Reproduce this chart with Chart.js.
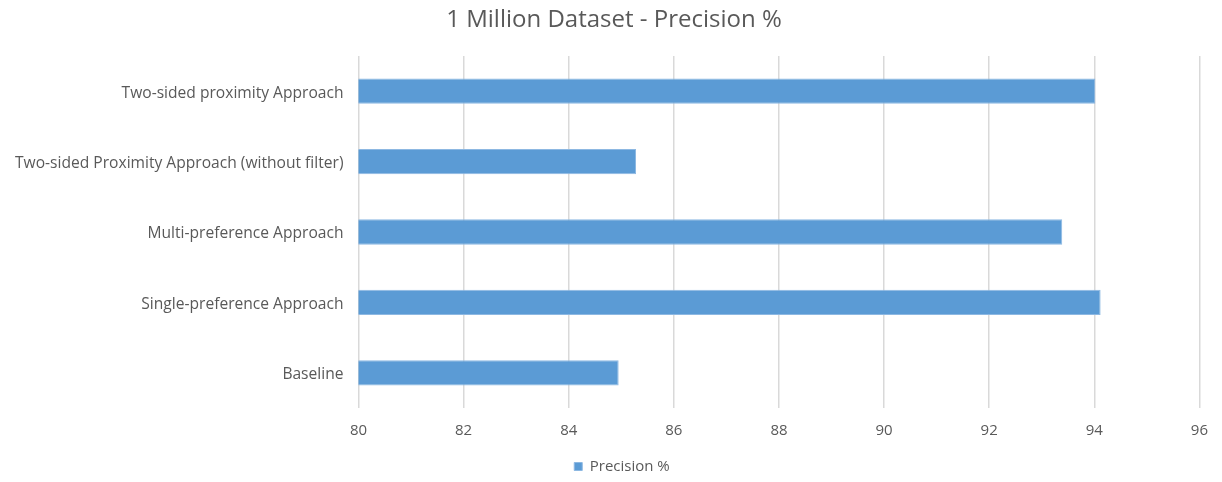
<!DOCTYPE html>
<html>
<head>
<meta charset="utf-8">
<script src="https://cdn.jsdelivr.net/npm/chart.js@4/dist/chart.umd.min.js"></script>
<style>
  html, body { margin: 0; padding: 0; background: #ffffff; }
  #wrap { width: 1222px; height: 482px; position: relative; }
</style>
</head>
<body>
<div id="wrap"><canvas id="chart" width="1222" height="482"></canvas></div>
<script>
// Approaches compared on the 1 million record dataset
const categories = [
  'Two-sided proximity Approach',
  'Two-sided Proximity Approach (without filter)',
  'Multi-preference Approach',
  'Single-preference Approach',
  'Baseline'
];
const precisionValues = [94.02, 85.28, 93.39, 94.12, 84.95];
const seriesName = 'Precision %';
const chartTitle = '1 Million Dataset - Precision %';
const axisMin = 80;
const axisMax = 96;
const axisStep = 2;

const textGrey = '#595959';
const barBlue = '#5B9BD5';
const fontFamily = "'Open Sans', 'Noto Sans', sans-serif";

// Nudge the title and legend blocks to the right so they sit over the plot rather than the whole canvas
const centreBlocks = {
  id: 'centreBlocks',
  afterLayout(chart) {
    const t = chart.titleBlock;
    if (t) { t.left += 7; t.right += 7; }
    const l = chart.legend;
    if (l) { l.left += 15; l.right += 15; }
  }
};

new Chart(document.getElementById('chart'), {
  type: 'bar',
  data: {
    labels: categories,
    datasets: [{
      label: seriesName,
      data: precisionValues,
      backgroundColor: barBlue,
      borderColor: '#8db8e2',
      borderWidth: 1,
      borderSkipped: false,
      categoryPercentage: 1,
      barPercentage: 0.36
    }]
  },
  plugins: [centreBlocks],
  options: {
    indexAxis: 'y',
    responsive: false,
    animation: false,
    devicePixelRatio: 1,
    layout: { padding: { left: 9, right: 17, top: 0, bottom: -2 } },
    plugins: {
      title: {
        display: true,
        text: chartTitle,
        color: textGrey,
        font: { family: fontFamily, size: 24, weight: 'normal' },
        padding: { top: 6, bottom: 21.2 }
      },
      legend: {
        display: true,
        position: 'bottom',
        labels: {
          color: textGrey,
          boxWidth: 8,
          boxHeight: 8,
          padding: 10,
          font: { family: fontFamily, size: 15 }
        }
      },
      tooltip: { enabled: false }
    },
    scales: {
      x: {
        min: axisMin,
        max: axisMax,
        ticks: {
          stepSize: axisStep,
          color: textGrey,
          padding: 14,
          font: { family: fontFamily, size: 15 }
        },
        grid: { color: '#d9d9d9', lineWidth: 1.5, drawTicks: false },
        border: { display: false },
        afterFit: s => { s.height = 41; }
      },
      y: {
        ticks: {
          color: textGrey,
          padding: 15,
          labelOffset: 2,
          font: { family: fontFamily, size: 15.6 }
        },
        grid: { display: false, drawTicks: false },
        border: { display: false },
        afterFit: s => { s.width = 349.5; }
      }
    }
  }
});
</script>
</body>
</html>
